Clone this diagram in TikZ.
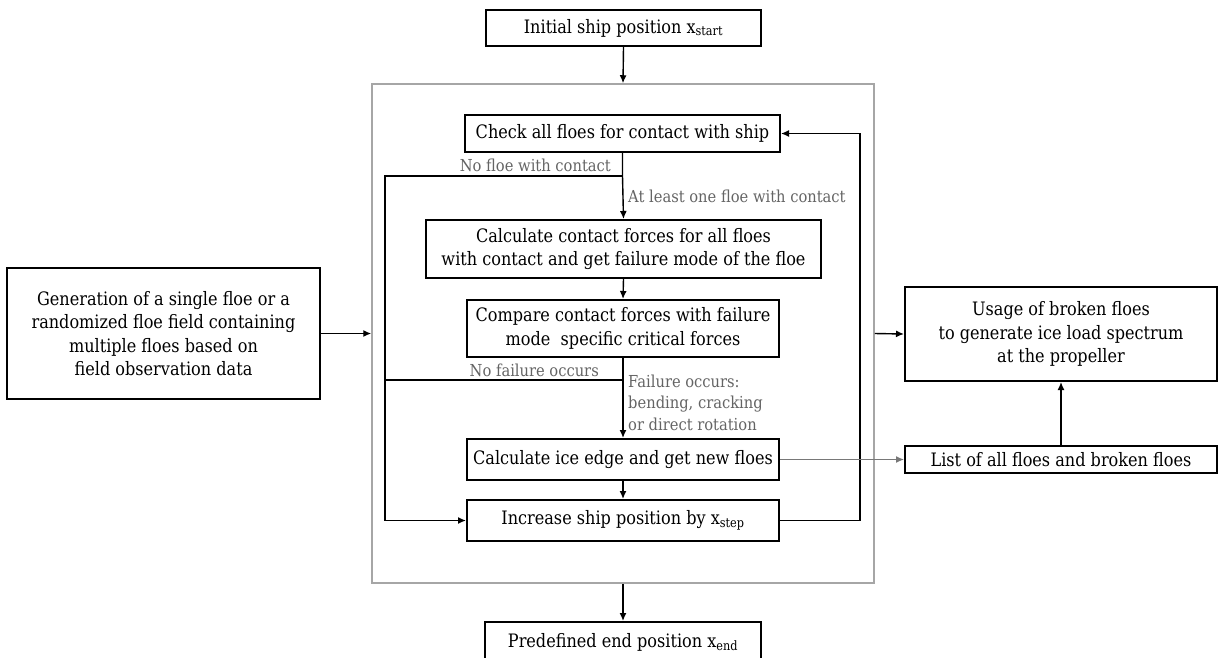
\documentclass[tikz,border=0pt]{standalone}
\usepackage{fontspec}
\setmainfont{DejaVu Serif}[FakeStretch=0.87]
\newfontfamily\lblfont{DejaVu Serif}[FakeStretch=0.89]
\usetikzlibrary{arrows.meta}
\definecolor{framegray}{RGB}{166,166,166}
\definecolor{lblgray}{RGB}{100,100,100}
\definecolor{arrgray}{RGB}{120,120,120}
\begin{document}
\begin{tikzpicture}[x=1pt,y=-1pt,
  box/.style={draw=black,line width=2pt,inner sep=0pt,align=center,
    font=\fontsize{18.5}{23.5}\selectfont},
  lbl/.style={text=lblgray,inner sep=0pt,font=\lblfont\fontsize{16.5}{21.5}\selectfont},
  conn/.style={line width=1.4pt,-{Latex[length=8pt,width=7pt]}},
  line/.style={line width=1.4pt}
]
\useasboundingbox (0,0) rectangle (1219,657);
\node[draw=framegray,line width=1.5pt,minimum width=502pt,minimum height=499pt,inner sep=0pt] (frame) at (623,333.5) {};
\node[box,minimum width=275pt,minimum height=36pt] (start) at (623.5,28) {Initial ship position x\textsubscript{start}};
\node[box,minimum width=315pt,minimum height=37pt] (check) at (622.5,133.5) {Check all floes for contact with ship};
\node[box,minimum width=395pt,minimum height=58pt] (calc) at (623.5,249) {Calculate contact forces for all floes\\with contact and get failure mode of the floe};
\node[box,minimum width=312pt,minimum height=57pt] (cmp) at (623,328.5) {Compare contact forces with failure\\mode\ \ specific critical forces};
\node[box,minimum width=312pt,minimum height=41pt] (edge) at (623,459.5) {Calculate ice edge and get new floes};
\node[box,minimum width=312pt,minimum height=41pt] (inc) at (623,520.5) {Increase ship position by x\textsubscript{step}};
\node[box,minimum width=276pt,minimum height=40pt] (end) at (623,642) {Predefined end position x\textsubscript{end}};
\node[box,minimum width=313pt,minimum height=131pt] (gen) at (163.5,333.5) {Generation of a single floe or a\\randomized floe field containing\\multiple floes based on\\field observation data};
\node[box,minimum width=312pt,minimum height=94pt] (usage) at (1061,334) {Usage of broken floes\\to generate ice load spectrum\\at the propeller};
\node[box,minimum width=312pt,minimum height=27pt] (list) at (1061,459.5) {List of all floes and broken floes};

\node[lbl,anchor=base east] (l1) at (611,171) {No floe with contact};
\node[lbl,anchor=base west] (l2) at (628,202) {At least one floe with contact};
\node[lbl,anchor=base east] (l3) at (599,376) {No failure occurs};
\node[lbl,anchor=base west] (l4a) at (628,387) {Failure occurs:};
\node[lbl,anchor=base west] (l4b) at (628,408.5) {bending, cracking};
\node[lbl,anchor=base west] (l4c) at (628,430) {or direct rotation};

\coordinate (j1) at (check.south |- 0,176);
\coordinate (j1l) at (385,176);
\coordinate (j3) at (385,520.5);
\coordinate (j2) at (cmp.south |- 0,380);
\coordinate (j2l) at (385,380);
\coordinate (r1) at (860,520.5);
\coordinate (r2) at (860,133.5);

\draw[conn] (start.south) -- (frame.north);
\draw[conn] (frame.south) -- (end.north);
\draw[conn] (gen.east) -- (frame.west);
\draw[conn] (frame.east) -- (usage.west);
\draw[conn] (list.north) -- (usage.south);
\draw[conn] (check.south) -- (j1) -- (calc.north);
\draw[conn] (j1) -- (j1l) -- (j3) -- (inc.west);
\draw[conn] (calc.south) -- (cmp.north);
\draw[conn] (cmp.south) -- (j2) -- (edge.north);
\draw[line] (j2) -- (j2l);
\draw[conn] (edge.south) -- (inc.north);
\draw[conn] (inc.east) -- (r1) -- (r2) -- (check.east);
\draw[conn,draw=arrgray,line width=1.2pt] (edge.east) -- (list.west);
\end{tikzpicture}
\end{document}
